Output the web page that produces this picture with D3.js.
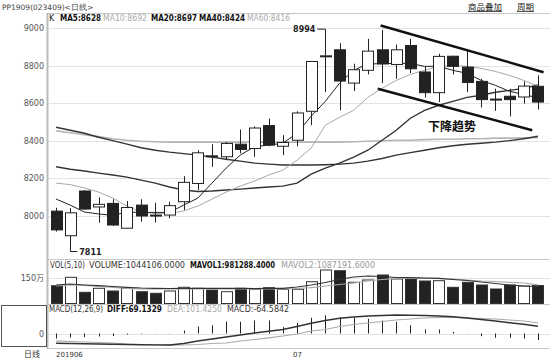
<!DOCTYPE html>
<html>
<head>
<meta charset="utf-8">
<script src="https://cdn.jsdelivr.net/npm/d3@7"></script>
<style>
  body { margin: 0; background: #fff; }
  svg { display: block; font-family: "DejaVu Sans", Verdana, sans-serif; }
</style>
</head>
<body>
<script>
// ---- data (PP1909 daily) ----
var opens  = [8026, 7895, 8133, 8048, 8067, 7935, 8058, 8005, 8005, 8076, 8173, 8320, 8315, 8382, 8359, 8481, 8371, 8403, 8557, 8848,
              8884, 8707, 8775, 8884, 8806, 8907, 8766, 8656, 8850, 8792, 8716, 8622, 8637, 8633, 8690];
var closes = [7926, 8017, 8037, 8062, 7952, 8045, 8000, 8000, 8055, 8179, 8336, 8316, 8386, 8354, 8468, 8377, 8391, 8548, 8822, 8852,
              8718, 8778, 8877, 8809, 8884, 8783, 8656, 8849, 8796, 8710, 8619, 8620, 8619, 8691, 8606];
var highs  = [8044, 8042, 8138, 8099, 8089, 8080, 8089, 8070, 8076, 8212, 8350, 8382, 8394, 8460, 8477, 8518, 8430, 8557, 8822, 8994,
              8919, 8810, 8942, 8989, 8912, 8942, 8796, 8863, 8852, 8878, 8730, 8677, 8677, 8716, 8748];
var lows   = [7917, 7811, 8032, 7964, 7948, 7935, 7970, 7965, 7988, 8032, 8138, 8261, 8301, 8333, 8315, 8371, 8324, 8371, 8483, 8659,
              8562, 8665, 8753, 8707, 8730, 8760, 8630, 8606, 8753, 8659, 8577, 8559, 8530, 8598, 8566];

var ma5  = [8090, 8058, 8021, 8011, 8003, 8021, 8019, 8019, 8019, 8058, 8095, 8175, 8255, 8324, 8369, 8377, 8387, 8440, 8531, 8610,
            8706, 8775, 8809, 8810, 8812, 8812, 8796, 8796, 8775, 8759, 8721, 8695, 8663, 8647, 8628];
var ma10 = [8175, 8167, 8149, 8127, 8095, 8053, 8021, 8013, 8013, 8027, 8053, 8090, 8127, 8159, 8186, 8218, 8244, 8297, 8361, 8483,
            8525, 8562, 8631, 8679, 8721, 8753, 8775, 8796, 8801, 8796, 8785, 8769, 8748, 8721, 8692];
var ma20 = [8262, 8249, 8239, 8228, 8218, 8207, 8191, 8175, 8154, 8138, 8130, 8133, 8138, 8143, 8149, 8154, 8159, 8175, 8223, 8255,
            8281, 8313, 8350, 8403, 8456, 8520, 8562, 8589, 8610, 8631, 8642, 8658, 8668, 8679, 8697];
var ma40 = [8472, 8456, 8440, 8419, 8401, 8382, 8363, 8350, 8340, 8332, 8324, 8313, 8302, 8292, 8281, 8276, 8271, 8271, 8271, 8273,
            8276, 8281, 8292, 8306, 8324, 8337, 8350, 8363, 8374, 8382, 8387, 8393, 8401, 8411, 8424];
var ma60 = [8453, 8443, 8432, 8422, 8411, 8403, 8398, 8395, 8393, 8393, 8393, 8393, 8393, 8393, 8393, 8393, 8393, 8393, 8393, 8393,
            8393, 8395, 8398, 8400, 8403, 8403, 8406, 8408, 8408, 8411, 8411, 8414, 8414, 8416, 8416];

// volume in 万 (10k lots)
var volumes = [103.5, 152.3, 65.1, 88.4, 72.7, 88.4, 68.6, 59.3, 72.7, 94.2, 88.4, 78.5, 68.6, 88.4, 82.6, 91.9, 82.6, 82.6, 126.7, 194.8,
               190.7, 123.3, 136.6, 165.7, 142.4, 142.4, 130.8, 132.6, 94.2, 123.3, 107.6, 84.3, 107.6, 101.7, 104.4];
var mavol1 = [107.6, 113.4, 107.6, 103.5, 98.8, 94.2, 90.1, 88.4, 87.2, 88.4, 88.4, 88.4, 88.4, 88.4, 87.2, 88.4, 88.4, 95.9, 107.6, 122.1,
              139.5, 154.1, 159.9, 157.0, 151.2, 150.0, 148.3, 146.5, 139.5, 133.7, 125.0, 116.3, 107.6, 101.7, 98.1];
var mavol2 = [101.7, 107.6, 104.7, 98.8, 93.0, 88.4, 84.3, 84.3, 84.3, 84.3, 84.3, 84.3, 84.3, 84.3, 84.3, 84.3, 84.3, 87.2, 91.9, 101.7,
              110.5, 119.2, 130.8, 139.5, 146.5, 146.5, 146.5, 146.5, 142.4, 136.6, 130.8, 127.9, 123.3, 119.2, 108.7];

var macdBars = [-50, -40, -35, -30, -25, -10, -5, -2, 3, 30, 70, 83, 120, 117, 130, 130, 63, 107, 157, 183,
                163, 157, 147, 130, 117, 83, 40, 40, 17, 2, -27, -43, -43, -50, -65];
var diff = [-98, -100, -103, -105, -108, -110, -112, -114, -115, -100, -75, -55, -35, -15, 5, 22, 40, 70, 102, 130,
            152, 165, 175, 180, 185, 183, 180, 175, 168, 155, 140, 125, 108, 92, 72];
var dea  = [-73, -80, -85, -90, -95, -105, -110, -113, -116, -115, -110, -100, -95, -75, -60, -43, -25, -5, 25, 40,
            70, 90, 105, 120, 135, 145, 155, 160, 160, 155, 150, 145, 135, 125, 105];

var priceTicks = [8000, 8200, 8400, 8600, 8800, 9000];
var volTicks = [150];
var dateLabels = [{i: 0, t: "201906"}, {i: 17, t: "07"}];

// trend lines as [candle index, price]
var upperTrend = [[22.9, 9013], [34.4, 8765]];
var lowerTrend = [[22.7, 8677], [33.6, 8456]];

var W = 550, H = 361;
var svg = d3.select("body").append("svg").attr("width", W).attr("height", H);

var x = d3.scaleLinear().domain([-0.5, 34.5]).range([49, 545]);
var y = d3.scaleLinear().domain([8000, 9000]).range([216, 28]);
var yv = d3.scaleLinear().domain([0, 150]).range([303.5, 277.7]);
var ym = d3.scaleLinear().domain([0, 100]).range([333.5, 323.5]);
var bw = 11;
var idx = d3.range(opens.length);

// ---- frame ----
svg.append("text").attr("x", 2).attr("y", 10).attr("font-size", 7.5).attr("fill", "#444")
  .text("PP1909(023409)<日线>");
var topLinks = [{x: 468, t: "商品叠加"}, {x: 517, t: "周期"}];
topLinks.forEach(function(d) {
  var t = svg.append("text").attr("x", d.x).attr("y", 10).attr("font-size", 8.5)
    .attr("font-family", "Noto Sans CJK SC").attr("fill", "#222").text(d.t);
  svg.append("line").attr("x1", d.x).attr("x2", d.x + t.node().getComputedTextLength())
    .attr("y1", 11.5).attr("y2", 11.5).attr("stroke", "#222").attr("stroke-width", 0.8);
});

var sepY = [13.5, 259.5, 304.5, 348.5];
svg.selectAll(".sep").data(sepY).enter().append("line")
  .attr("x1", 47).attr("x2", W).attr("y1", function(d) { return d; }).attr("y2", function(d) { return d; })
  .attr("stroke", "#c8c8c8").attr("stroke-width", 1);
svg.append("line").attr("x1", 47.5).attr("x2", 47.5).attr("y1", 13).attr("y2", 349)
  .attr("stroke", "#bbb").attr("stroke-width", 2);

// price grid + labels
svg.append("g").selectAll("line").data(priceTicks).enter().append("line")
  .attr("x1", 49).attr("x2", W).attr("y1", function(d) { return Math.round(y(d)) + 0.5; })
  .attr("y2", function(d) { return Math.round(y(d)) + 0.5; })
  .attr("stroke", "#e2e2e2");
svg.append("g").selectAll("text").data(priceTicks).enter().append("text")
  .attr("x", 44).attr("y", function(d) { return y(d) + 3; }).attr("text-anchor", "end")
  .attr("font-size", 8).attr("fill", "#555").text(function(d) { return d; });

// header rows: each item fitted into the span it takes on the chart
function headerRow(items, yy) {
  items.forEach(function(d) {
    var t = svg.append("text").attr("x", d.x).attr("y", yy).attr("fill", d.c)
      .attr("font-size", 8).text(d.t);
    if (d.b) t.attr("font-weight", "bold");
    if (d.w) t.attr("textLength", d.w).attr("lengthAdjust", "spacingAndGlyphs");
  });
}
headerRow([
  {t: "K", x: 49, c: "#222"},
  {t: "MA5:8628", x: 60, w: 41, c: "#111", b: 1},
  {t: "MA10:8692", x: 103, w: 44, c: "#aaa"},
  {t: "MA20:8697", x: 151, w: 46, c: "#111", b: 1},
  {t: "MA40:8424", x: 199, w: 46, c: "#111", b: 1},
  {t: "MA60:8416", x: 247, w: 43, c: "#aaa"}
], 21);

// ---- moving averages ----
var line = function(arr) {
  return d3.line().x(function(d, i) { return x(i); }).y(function(d) { return y(d); })(arr);
};
var maStyles = [
  {d: ma60, c: "#b5b5b5", w: 1.6},
  {d: ma40, c: "#333", w: 1.4},
  {d: ma20, c: "#333", w: 1.4},
  {d: ma10, c: "#a8a8a8", w: 1},
  {d: ma5, c: "#222", w: 1}
];
maStyles.forEach(function(s) {
  svg.append("path").attr("d", line(s.d)).attr("fill", "none").attr("stroke", s.c).attr("stroke-width", s.w);
});

// ---- candles ----
var cg = svg.append("g").selectAll("g").data(idx).enter().append("g");
cg.append("line")
  .attr("x1", function(i) { return Math.round(x(i)) + 0.5; }).attr("x2", function(i) { return Math.round(x(i)) + 0.5; })
  .attr("y1", function(i) { return y(highs[i]); }).attr("y2", function(i) { return y(lows[i]); })
  .attr("stroke", "#222");
cg.append("rect")
  .attr("x", function(i) { return Math.round(x(i) - bw / 2) + 0.5; })
  .attr("y", function(i) { return y(Math.max(opens[i], closes[i])); })
  .attr("width", bw)
  .attr("height", function(i) { return Math.max(1, Math.abs(y(opens[i]) - y(closes[i]))); })
  .attr("fill", function(i) { return closes[i] > opens[i] ? "#fff" : "#222"; })
  .attr("stroke", "#222");

// high/low markers
var hiI = highs.indexOf(d3.max(highs)), loI = lows.indexOf(d3.min(lows));
svg.append("line").attr("x1", x(hiI) - 8).attr("x2", x(hiI)).attr("y1", y(highs[hiI])).attr("y2", y(highs[hiI]))
  .attr("stroke", "#222");
svg.append("text").attr("x", x(hiI) - 10).attr("y", y(highs[hiI]) + 3).attr("text-anchor", "end")
  .attr("font-size", 8).attr("font-weight", "bold").attr("fill", "#222").text(highs[hiI]);
svg.append("line").attr("x1", x(loI)).attr("x2", x(loI) + 7).attr("y1", y(lows[loI])).attr("y2", y(lows[loI]))
  .attr("stroke", "#222");
svg.append("text").attr("x", x(loI) + 9).attr("y", y(lows[loI]) + 3)
  .attr("font-size", 8).attr("font-weight", "bold").attr("fill", "#222").text(lows[loI]);

// trend lines
[upperTrend, lowerTrend].forEach(function(tl) {
  svg.append("line").attr("x1", x(tl[0][0])).attr("y1", y(tl[0][1]))
    .attr("x2", x(tl[1][0])).attr("y2", y(tl[1][1]))
    .attr("stroke", "#111").attr("stroke-width", 2.5);
});
svg.append("text").attr("x", 452).attr("y", 131).attr("text-anchor", "middle")
  .attr("font-family", "Noto Sans CJK SC").attr("font-size", 12).attr("font-weight", "bold")
  .attr("fill", "#111").text("下降趋势");

// ---- volume panel ----
headerRow([
  {t: "VOL(5,10)", x: 50, w: 35, c: "#333"},
  {t: "VOLUME:1044106.0000", x: 89, w: 96, c: "#333"},
  {t: "MAVOL1:981288.4000", x: 190, w: 85, c: "#111", b: 1},
  {t: "MAVOL2:1087191.6000", x: 281, w: 94, c: "#999"}
], 268);
svg.append("g").selectAll("line").data(volTicks).enter().append("line")
  .attr("x1", 49).attr("x2", W).attr("y1", function(d) { return Math.round(yv(d)) + 0.5; })
  .attr("y2", function(d) { return Math.round(yv(d)) + 0.5; }).attr("stroke", "#e2e2e2");
svg.append("g").selectAll("text").data(volTicks).enter().append("text")
  .attr("x", 44).attr("y", function(d) { return yv(d) + 3; }).attr("text-anchor", "end")
  .attr("font-size", 8).attr("fill", "#555").text(function(d) { return d; })
  .append("tspan").attr("font-family", "Noto Sans CJK SC").text("万");

svg.append("g").selectAll("rect").data(idx).enter().append("rect")
  .attr("x", function(i) { return Math.round(x(i) - bw / 2) + 0.5; })
  .attr("y", function(i) { return yv(volumes[i]); })
  .attr("width", bw).attr("height", function(i) { return yv(0) - yv(volumes[i]); })
  .attr("fill", function(i) { return closes[i] > opens[i] ? "#fff" : "#222"; })
  .attr("stroke", "#333");
var vline = function(arr) {
  return d3.line().x(function(d, i) { return x(i); }).y(function(d) { return yv(d); })(arr);
};
svg.append("path").attr("d", vline(mavol2)).attr("fill", "none").attr("stroke", "#aaa").attr("stroke-width", 1.2);
svg.append("path").attr("d", vline(mavol1)).attr("fill", "none").attr("stroke", "#333").attr("stroke-width", 1.2);

// ---- MACD panel ----
headerRow([
  {t: "MACD(12,26,9)", x: 49, w: 54, c: "#333"},
  {t: "DIFF:69.1329", x: 107, w: 55, c: "#111", b: 1},
  {t: "DEA:101.4250", x: 167, w: 55, c: "#aaa"},
  {t: "MACD:-64.5842", x: 227, w: 62, c: "#333"}
], 312);
svg.append("rect").attr("x", 1.5).attr("y", 305.5).attr("width", 45).attr("height", 41)
  .attr("fill", "#fff").attr("stroke", "#555");
svg.append("line").attr("x1", 49).attr("x2", W).attr("y1", Math.round(ym(0)) + 0.5).attr("y2", Math.round(ym(0)) + 0.5)
  .attr("stroke", "#e2e2e2");
svg.append("text").attr("x", 44).attr("y", ym(0) + 3).attr("text-anchor", "end")
  .attr("font-size", 8).attr("fill", "#555").text("0");
svg.append("g").selectAll("line").data(idx).enter().append("line")
  .attr("x1", function(i) { return Math.round(x(i)) + 0.5; }).attr("x2", function(i) { return Math.round(x(i)) + 0.5; })
  .attr("y1", ym(0)).attr("y2", function(i) { return ym(macdBars[i]); })
  .attr("stroke", "#222");
var mline = function(arr) {
  return d3.line().x(function(d, i) { return x(i); }).y(function(d) { return ym(d); })(arr);
};
svg.append("path").attr("d", mline(dea)).attr("fill", "none").attr("stroke", "#aaa").attr("stroke-width", 1.2);
svg.append("path").attr("d", mline(diff)).attr("fill", "none").attr("stroke", "#333").attr("stroke-width", 1.4);

// ---- date axis ----
svg.append("text").attr("x", 40).attr("y", 357).attr("text-anchor", "end")
  .attr("font-family", "Noto Sans CJK SC").attr("font-size", 8).attr("fill", "#333").text("日线");
svg.append("g").selectAll("text").data(dateLabels).enter().append("text")
  .attr("x", function(d) { return d.i === 0 ? x(d.i) : x(d.i) - 4; }).attr("y", 357)
  .attr("font-size", 7).attr("fill", "#333").text(function(d) { return d.t; });
</script>
</body>
</html>
